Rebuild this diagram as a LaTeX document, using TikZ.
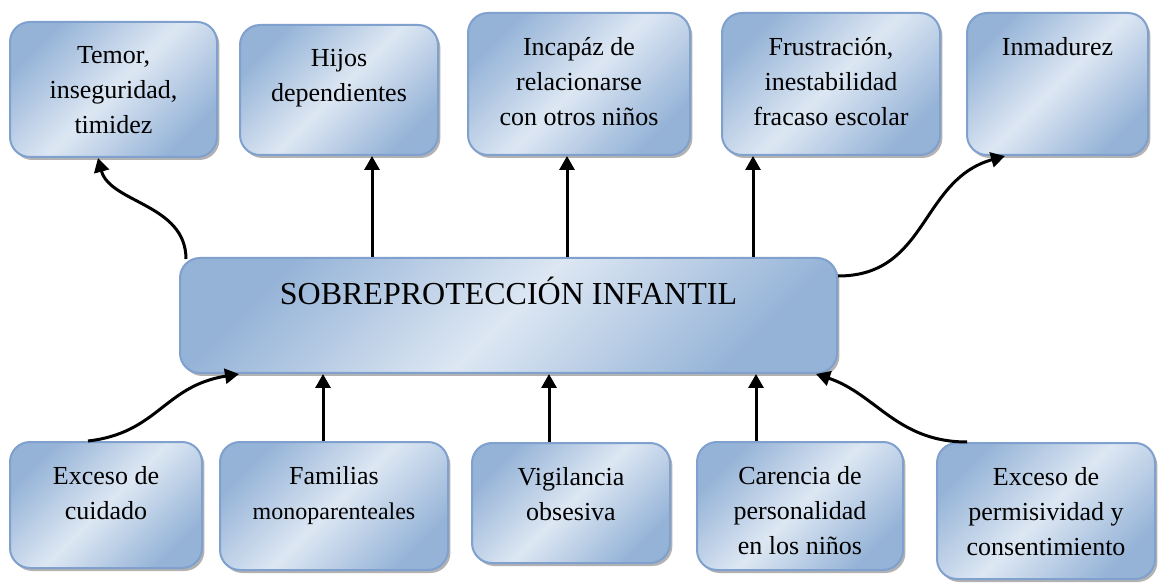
\documentclass[tikz,border=0pt]{standalone}
\usepackage{fontspec}
\setmainfont{Liberation Serif}
\usetikzlibrary{calc,positioning,shadows,arrows.meta}

\definecolor{azulclaro}{RGB}{221,231,243}
\definecolor{azuloscuro}{RGB}{149,179,215}
\definecolor{azulborde}{RGB}{128,160,205}

\begin{document}
\begin{tikzpicture}[x=0.5pt,y=0.5pt,
  caja/.style={draw=azulborde, line width=1pt, rounded corners=10pt,
    top color=azuloscuro, bottom color=azuloscuro, middle color=azulclaro,
    shading angle=45, inner sep=0pt,
    drop shadow={shadow xshift=1.2pt, shadow yshift=-1.5pt, fill=black!55, opacity=0.55}},
  texto/.style={align=center, inner sep=0pt, font=\fontsize{13}{17.5}\selectfont},
  flecha/.style={line width=1.5pt, -{Triangle[length=7pt,width=7.5pt]}}]

  \useasboundingbox (0,0) rectangle (1159,583);

  % efectos
  \node[caja, minimum width=103.5pt, minimum height=67.5pt] (t1) at (113.5,493.5) {};
  \node[caja, minimum width=99pt, minimum height=65pt] (t2) at (339,493) {};
  \node[caja, minimum width=111pt, minimum height=71pt] (t3) at (579,499) {};
  \node[caja, minimum width=109pt, minimum height=71pt] (t4) at (831,499) {};
  \node[caja, minimum width=90.5pt, minimum height=71pt] (t5) at (1057.5,499) {};
  \node[texto, below=12.5pt of t1.north] (t1txt) {Temor,\\inseguridad,\\timidez};
  \node[texto, below=12.5pt of t2.north] (t2txt) {Hijos\\dependientes};
  \node[texto, below=12.5pt of t3.north] (t3txt) {Incapáz de\\relacionarse\\con otros niños};
  \node[texto, below=12.5pt of t4.north] (t4txt) {Frustración,\\inestabilidad\\fracaso escolar};
  \node[texto, below=12.5pt of t5.north] (t5txt) {Inmadurez};

  % problema central
  \node[caja, minimum width=328.5pt, minimum height=57.5pt] (c) at (508.5,267.5) {};
  \node[anchor=base, inner sep=0pt, font=\fontsize{16}{19}\selectfont] (ctxt)
    at ([yshift=5.25pt]c.center) {SOBREPROTECCIÓN INFANTIL};

  % causas
  \node[caja, minimum width=96pt, minimum height=63pt] (b1) at (106,78) {};
  \node[caja, minimum width=114pt, minimum height=64pt] (b2) at (334,77) {};
  \node[caja, minimum width=99pt, minimum height=60pt] (b3) at (571,80) {};
  \node[caja, minimum width=103pt, minimum height=64pt] (b4) at (800,77) {};
  \node[caja, minimum width=109pt, minimum height=68pt] (b5) at (1046,72) {};
  \node[texto, below=12.5pt of b1.north] (b1txt) {Exceso de\\cuidado};
  \node[texto, below=12.5pt of b2.north] (b2txt) {Familias\\{\fontsize{12}{17.5}\selectfont monoparenteales}};
  \node[texto, below=12.5pt of b3.north] (b3txt) {Vigilancia\\obsesiva};
  \node[texto, below=12.5pt of b4.north] (b4txt) {Carencia de\\personalidad\\en los niños};
  \node[texto, below=12.5pt of b5.north] (b5txt) {Exceso de\\permisividad y\\consentimiento};

  % flechas hacia los efectos
  \coordinate (t2p) at ([xshift=16.5pt]t2.south);
  \coordinate (t3p) at ([xshift=-6pt]t3.south);
  \coordinate (t4p) at ([xshift=-39pt]t4.south);
  \draw[flecha] ([shift={(3.5pt,-1pt)}]c.north west) .. controls +(0,55) and +(12,-45) .. ([xshift=-7.75pt]t1.south);
  \draw[flecha] (t2p |- c.north) -- (t2p);
  \draw[flecha] (t3p |- c.north) -- (t3p);
  \draw[flecha] (t4p |- c.north) -- (t4p);
  \draw[flecha] ([yshift=-9.5pt]c.north east) .. controls +(90,0) and +(-85,-24) .. ([xshift=-26.25pt]t5.south);

  % flechas desde las causas
  \coordinate (b2p) at ([xshift=-5.5pt]b2.north);
  \coordinate (b3p) at ([xshift=-11pt]b3.north);
  \coordinate (b4p) at ([xshift=-22pt]b4.north);
  \draw[flecha] ([xshift=-9pt]b1.north) .. controls +(70,8) and +(-75,-12) .. ([xshift=30pt]c.south west);
  \draw[flecha] (b2p) -- (b2p |- c.south);
  \draw[flecha] (b3p) -- (b3p |- c.south);
  \draw[flecha] (b4p) -- (b4p |- c.south);
  \draw[flecha] ([xshift=-39.5pt]b5.north) .. controls +(-70,0) and +(60,-20) .. ([xshift=-11pt]c.south east);
\end{tikzpicture}
\end{document}
